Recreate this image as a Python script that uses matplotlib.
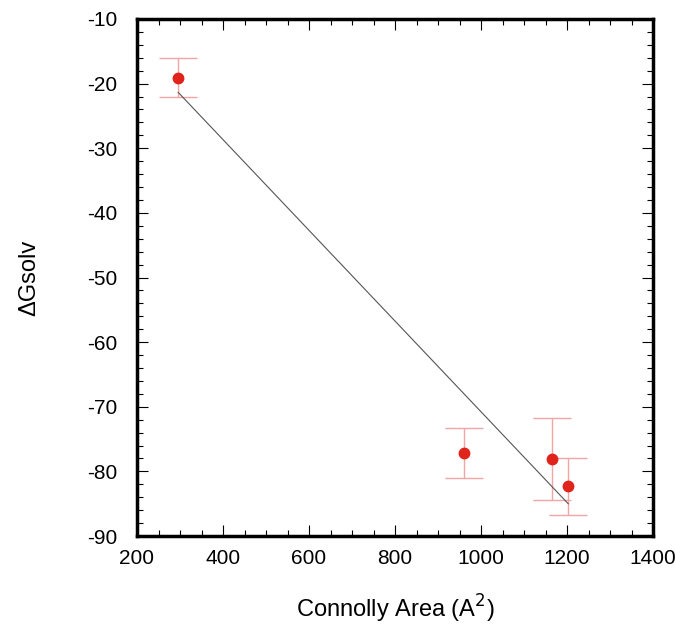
import matplotlib
matplotlib.use("Agg")
import matplotlib.pyplot as plt
import numpy as np
from matplotlib.ticker import MultipleLocator

plt.rcParams['font.family'] = ['Liberation Sans', 'DejaVu Sans']
plt.rcParams['axes.unicode_minus'] = False

# data
area = np.array([296, 961, 1164, 1203])
dg = np.array([-19.1, -77.2, -78.1, -82.3])
err = np.array([3.0, 3.9, 6.3, 4.4])

fig = plt.figure(figsize=(6.75, 6.27), dpi=100)
ax = fig.add_axes([137/675, 1 - 536/627, (653-137)/675, (536-19)/627])

# fit line
k, b = np.polyfit(area, dg, 1)
xs = np.array([area.min(), area.max()])
ax.plot(xs, k*xs + b, color='#555555', lw=0.8, zorder=2)

ax.errorbar(area, dg, yerr=err, fmt='none', ecolor='#f2a5a5', elinewidth=1,
            capsize=14, capthick=1, zorder=1)
ax.plot(area, dg, 'o', color='#e0231b', ms=7.5, zorder=3)

ax.set_xlim(200, 1400)
ax.set_ylim(-90, -10)
ax.xaxis.set_major_locator(MultipleLocator(200))
ax.xaxis.set_minor_locator(MultipleLocator(50))
ax.yaxis.set_major_locator(MultipleLocator(10))
ax.yaxis.set_minor_locator(MultipleLocator(2))
ax.tick_params(which='both', direction='in', top=True, right=True, labelsize=15, width=0.8)
ax.tick_params(which='major', length=8)
ax.tick_params(axis='y', which='major', pad=14)
ax.tick_params(axis='x', which='major', pad=9)
ax.tick_params(which='minor', length=4)
for s in ax.spines.values():
    s.set_linewidth(2.5)

ax.set_xlabel('Connolly Area (A$^2$)', fontsize=17, labelpad=18)
ax.set_ylabel('ΔGsolv', fontsize=17, labelpad=34)

fig.savefig('out.png', dpi=100)
